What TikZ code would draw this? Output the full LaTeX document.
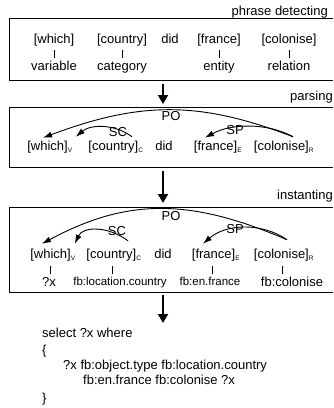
\documentclass[tikz,border=0pt]{standalone}
\usepackage{fontspec}
\setmainfont{Liberation Sans}
\usetikzlibrary{arrows.meta}

\tikzset{
  word/.style={inner sep=0pt, text height=9.4pt, text depth=2.7pt, font=\fontsize{13}{15}\selectfont},
  fbword/.style={word, text height=8.3pt, text depth=2.4pt, font=\fontsize{11.5}{13}\selectfont},
  stage/.style={word, anchor=east},
  query/.style={inner sep=0pt, anchor=base west, font=\fontsize{13}{15}\selectfont},
  frame/.style={line width=0.8pt},
  bar/.style={line width=0.8pt},
  bigarrow/.style={line width=1.8pt, -{Triangle[length=9pt,width=10pt]}},
  relarc/.style={line width=0.9pt, -{Latex[length=9pt,width=6pt]}},
}
\newcommand{\tagsub}[1]{\textsubscript{\fontsize{6.5}{7}\selectfont #1}}

\begin{document}
\begin{tikzpicture}[x=1pt, y=-1pt]
  \useasboundingbox (0,0) rectangle (333,408);

  % phrase detecting
  \node[stage] (st1) at (328,12) {phrase detecting};
  \draw[frame] (333,18) -| (9,80) -- (333,80);
  \node[word] (wh1) at (54,40) {[which]};
  \node[word] (co1) at (122,40) {[country]};
  \node[word] (di1) at (170,40) {did};
  \node[word] (fr1) at (219,40) {[france]};
  \node[word] (cl1) at (289,40) {[colonise]};
  \node[word] (va1) at (54,67) {variable};
  \node[word] (ca1) at (122,67) {category};
  \node[word] (en1) at (219,67) {entity};
  \node[word] (re1) at (289,67) {relation};
  \draw[bar, shorten <=4pt, shorten >=3pt] (wh1.south) -- (va1.north);
  \draw[bar, shorten <=4pt, shorten >=3pt] (co1.south) -- (ca1.north);
  \draw[bar, shorten <=4pt, shorten >=3pt] (fr1.south) -- (en1.north);
  \draw[bar, shorten <=4pt, shorten >=3pt] (cl1.south) -- (re1.north);

  \coordinate (a1s) at (163,84);
  \coordinate (a1e) at (163,104);
  \draw[bigarrow] (a1s) -- (a1e);

  % parsing
  \node[stage] (st2) at (333,97) {parsing};
  \draw[frame] (333,107) -| (9,167) -- (333,167);
  \node[word] (wh2) at (50,147) {[which]\tagsub{V}};
  \node[word] (co2) at (116,147) {[country]\tagsub{C}};
  \node[word] (di2) at (164,147) {did};
  \node[word] (fr2) at (218,147) {[france]\tagsub{E}};
  \node[word] (cl2) at (284,147) {[colonise]\tagsub{R}};
  \node[word] (po2) at (171,117) {PO};
  \node[word] (sc2) at (118,133) {SC};
  \node[word] (sp2) at (235,131) {SP};
  \draw[relarc] ([xshift=9pt,yshift=4pt]cl2.north) .. controls (200,101) and (141,101) .. ([xshift=-7pt,yshift=3pt]wh2.north);
  \draw[relarc] ([xshift=16pt,yshift=4pt]co2.north) .. controls (115,124) and (91,124) .. ([xshift=3pt,yshift=4pt]wh2.north east);
  \draw[relarc] ([xshift=9pt,yshift=4pt]cl2.north) .. controls (268,123) and (232,123) .. ([xshift=-13pt,yshift=3pt]fr2.north);

  \coordinate (a2s) at (163,171);
  \coordinate (a2e) at (163,203);
  \draw[bigarrow] (a2s) -- (a2e);

  % instanting
  \node[stage] (st3) at (333,196) {instanting};
  \draw[frame] (333,207) -| (9,292) -- (333,292);
  \node[word] (wh3) at (53,255) {[which]\tagsub{V}};
  \node[word] (co3) at (114,255) {[country]\tagsub{C}};
  \node[word] (di3) at (163,255) {did};
  \node[word] (fr3) at (216,255) {[france]\tagsub{E}};
  \node[word] (cl3) at (284,255) {[colonise]\tagsub{R}};
  \node[word] (po3) at (171,217) {PO};
  \node[word] (sc3) at (117,232) {SC};
  \node[word] (sp3) at (235,230) {SP};
  \draw[relarc] ([xshift=3pt,yshift=9pt]cl3.north) .. controls (190,198) and (127,198) .. ([xshift=-11pt,yshift=5pt]wh3.north);
  \draw[relarc] ([xshift=14pt,yshift=8pt]co3.north) .. controls (108,226) and (83,226) .. ([xshift=-1pt,yshift=5pt]wh3.north east);
  \draw[relarc] ([xshift=3pt,yshift=9pt]cl3.north) .. controls (263,223) and (227,223) .. ([xshift=-13pt,yshift=5pt]fr3.north);
  \node[word] (vx3) at (49,283) {?x};
  \node[fbword] (lc3) at (120,283) {fb:location.country};
  \node[fbword] (ef3) at (210,283) {fb:en.france};
  \node[word] (fc3) at (292,283) {fb:colonise};
  \draw[bar, shorten <=5pt, shorten >=3pt] ([xshift=-3pt]wh3.south) -- ([xshift=-3pt]wh3.south |- vx3.north);
  \draw[bar, shorten <=5pt, shorten >=3pt] ([xshift=-2pt]co3.south) -- ([xshift=-2pt]co3.south |- lc3.north);
  \draw[bar, shorten <=5pt, shorten >=3pt] ([xshift=-4pt]fr3.south) -- ([xshift=-4pt]fr3.south |- ef3.north);
  \draw[bar, shorten <=5pt, shorten >=3pt] ([xshift=-2pt]cl3.south) -- ([xshift=-2pt]cl3.south |- fc3.north);

  \coordinate (a3s) at (163,295);
  \coordinate (a3e) at (163,323);
  \draw[bigarrow] (a3s) -- (a3e);

  % query
  \node[query] (q1) at (42,337) {select ?x where};
  \node[query] (q2) at (42,354) {\{};
  \node[query] (q3) at (63,369) {?x fb:object.type fb:location.country};
  \node[query] (q4) at (83,384) {fb:en.france fb:colonise ?x};
  \node[query] (q5) at (42,402) {\}};
\end{tikzpicture}
\end{document}
